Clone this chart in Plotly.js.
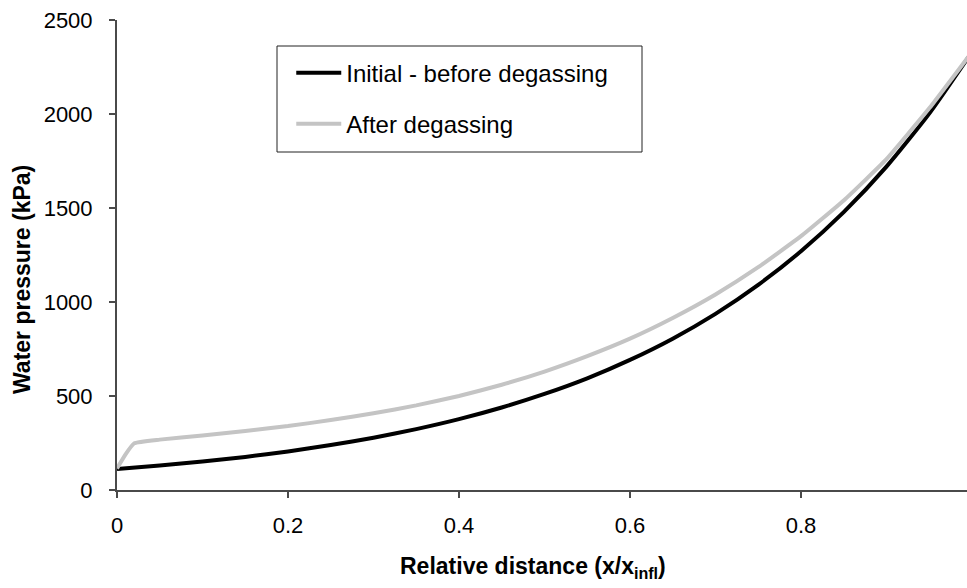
<!DOCTYPE html>
<html>
<head>
<meta charset="utf-8">
<script src="https://cdn.plot.ly/plotly-3.0.1.min.js"></script>
<style>html,body{margin:0;padding:0;background:#fff;}#chart{width:967px;height:588px;}</style>
</head>
<body>
<div id="chart"></div>
<script>
// Relative distance x/x_infl
const xValues = [0, 0.05, 0.1, 0.15, 0.2, 0.25, 0.3, 0.35, 0.4, 0.45, 0.5, 0.55, 0.6, 0.65, 0.7, 0.75, 0.8, 0.85, 0.9, 0.95, 1.0];
// Initial - before degassing (kPa)
const initialPressure = [112, 130, 152, 176, 205, 239, 278, 324, 377, 439, 511, 594, 692, 805, 937, 1091, 1270, 1478, 1720, 2002, 2330];
// After degassing (kPa)
const xAfter = [0, 0.01, 0.02, 0.05, 0.1, 0.15, 0.2, 0.25, 0.3, 0.35, 0.4, 0.45, 0.5, 0.55, 0.6, 0.65, 0.7, 0.75, 0.8, 0.85, 0.9, 0.95, 1.0];
const afterPressure = [115, 190, 248, 268, 290, 314, 340, 372, 408, 450, 500, 560, 630, 712, 805, 915, 1040, 1185, 1350, 1540, 1760, 2030, 2330];
const seriesNames = ["Initial - before degassing", "After degassing"];
const yTicks = [0, 500, 1000, 1500, 2000, 2500];
const xTicks = [0, 0.2, 0.4, 0.6, 0.8, 1];

const font = "Liberation Sans, Arial, Helvetica, sans-serif";
const traces = [
  {x: xValues, y: initialPressure, name: seriesNames[0], type: "scatter", mode: "lines",
   line: {color: "#000000", width: 4, shape: "spline", smoothing: 0.6}, legendgroup: "a"},
  {x: xAfter, y: afterPressure, name: seriesNames[1], type: "scatter", mode: "lines",
   line: {color: "#c4c4c4", width: 4, shape: "spline", smoothing: 0.4}, legendgroup: "b"}
];
const layout = {
  width: 967, height: 588,
  margin: {l: 117, r: 0, t: 20, b: 98, pad: 0},
  paper_bgcolor: "#ffffff", plot_bgcolor: "#ffffff",
  font: {family: font, color: "#000", size: 22},
  showlegend: true,
  legend: {x: 0.205, y: 0.935, xanchor: "left", yanchor: "top", bgcolor: "rgba(0,0,0,0)",
           borderwidth: 0, font: {family: font, size: 24, color: "#000"},
           traceorder: "grouped", tracegroupgap: 17, itemwidth: 45},
  xaxis: {range: [0, 0.9942], tickvals: xTicks, ticktext: xTicks.map(String),
          showgrid: false, zeroline: false, showline: true, linecolor: "#4a4a4a", linewidth: 2,
          ticks: "outside", ticklen: 6, tickwidth: 2, tickcolor: "#4a4a4a",
          tickfont: {family: font, size: 22, color: "#000"}, ticklabelstandoff: 9},
  yaxis: {range: [0, 2500], tickvals: yTicks, showgrid: false, zeroline: false,
          showline: true, linecolor: "#4a4a4a", linewidth: 2,
          ticks: "outside", ticklen: 6, tickwidth: 2, tickcolor: "#4a4a4a",
          tickfont: {family: font, size: 22, color: "#000"}, ticklabelstandoff: 12},
  shapes: [{type: "rect", xref: "paper", yref: "paper",
            x0: (277 - 117) / 850, x1: (642 - 117) / 850, y0: (490 - 152) / 470, y1: (490 - 46) / 470,
            line: {color: "#222", width: 1}, fillcolor: "rgba(0,0,0,0)"}],
  annotations: [
    {text: "<b>Water pressure (kPa)</b>", xref: "paper", yref: "paper",
     x: (22 - 117) / 850, y: (490 - 280) / 470, xanchor: "center", yanchor: "middle",
     textangle: -90, showarrow: false, font: {family: font, size: 23, color: "#000"}},
    {text: "<b>Relative distance (x/x<sub>infl</sub>)</b>", xref: "paper", yref: "paper",
     x: (533 - 117) / 850, y: (490 - 567) / 470, xanchor: "center", yanchor: "middle",
     showarrow: false, font: {family: font, size: 23, color: "#000"}}
  ]
};
Plotly.newPlot("chart", traces, layout, {staticPlot: true, displayModeBar: false});
</script>
</body>
</html>
